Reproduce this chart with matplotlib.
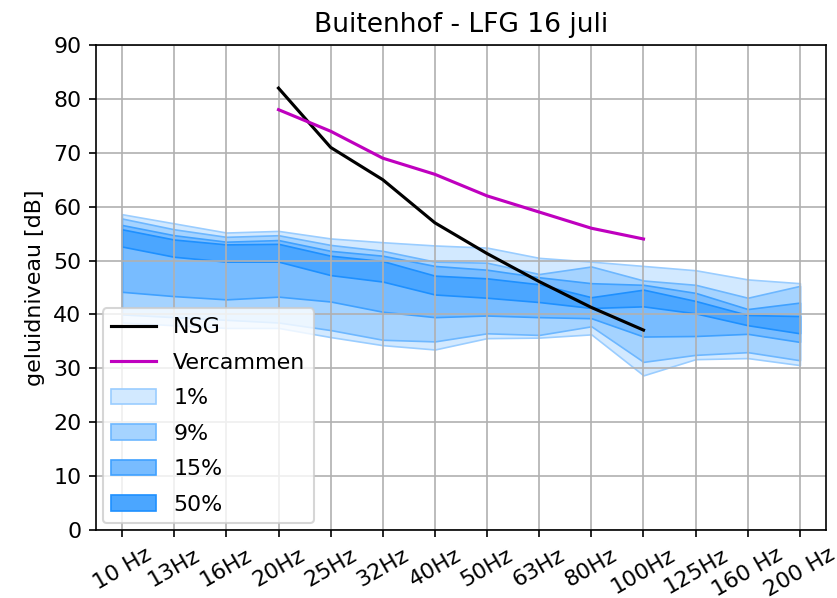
import numpy as np
import matplotlib
matplotlib.use("Agg")
import matplotlib.pyplot as plt
from matplotlib.colors import to_rgb

plt.rcParams['font.size'] = 10.6

freqs = ['10 Hz', '13Hz', '16Hz', '20Hz', '25Hz', '32Hz', '40Hz', '50Hz',
         '63Hz', '80Hz', '100Hz', '125Hz', '160 Hz', '200 Hz']

# upper / lower bounds of the bands (top to bottom)
up_1 = [58.6, 56.9, 55.2, 55.5, 54.1, 53.4, 52.8, 52.4, 50.5, 49.8, 49.0, 48.2, 46.5, 45.8]
up_9 = [57.8, 55.8, 54.4, 54.7, 52.9, 51.8, 49.8, 49.6, 47.5, 48.9, 46.3, 45.5, 43.1, 45.3]
up_15 = [56.6, 54.7, 53.5, 53.8, 51.8, 50.9, 49.0, 48.3, 46.9, 45.8, 45.5, 44.0, 41.0, 42.2]
up_50 = [55.8, 53.9, 53.0, 53.1, 50.9, 49.9, 47.2, 46.7, 45.6, 43.2, 44.6, 42.5, 39.9, 39.7]
lo_50 = [52.6, 50.7, 49.8, 49.8, 47.3, 46.1, 43.7, 43.1, 42.3, 41.2, 41.5, 40.2, 38.0, 36.5]
lo_15 = [44.2, 43.4, 42.8, 43.3, 42.4, 40.5, 39.5, 39.8, 39.5, 39.3, 35.9, 36.0, 36.4, 34.9]
lo_9 = [40.0, 39.5, 39.0, 38.5, 37.1, 35.3, 35.0, 36.5, 36.2, 37.8, 31.2, 32.5, 33.0, 31.5]
lo_1 = [38.5, 38.0, 37.5, 37.5, 35.8, 34.3, 33.5, 35.6, 35.7, 36.3, 28.7, 31.7, 31.9, 30.6]

nsg_freqs = ['20Hz', '25Hz', '32Hz', '40Hz', '50Hz', '63Hz', '80Hz', '100Hz']
nsg = [82, 71, 65, 57, 51.3, 46.1, 41.3, 37.1]
verc = [78, 74, 69, 66, 62, 59, 56, 54]

bands = [('1%', up_1, lo_1, 0.2), ('9%', up_9, lo_9, 0.4),
         ('15%', up_15, lo_15, 0.6), ('50%', up_50, lo_50, 0.8)]


def blend(c, a):
    c = np.array(to_rgb(c))
    return tuple(1 - a * (1 - c))


x = np.arange(len(freqs))
xn = [freqs.index(f) for f in nsg_freqs]

fig, ax = plt.subplots(figsize=(837 / 150, 598 / 150), dpi=150)
fig.subplots_adjust(left=96 / 837, right=826 / 837, top=1 - 45 / 598, bottom=1 - 530 / 598)

ax.plot(xn, nsg, color='black', label='NSG')
ax.plot(xn, verc, color='m', label='Vercammen')
for name, hi, lo, a in bands:
    ax.fill_between(x, lo, hi, facecolor=blend('dodgerblue', a),
                    edgecolor=blend('dodgerblue', min(a + 0.25, 1.0)),
                    linewidth=0.8, label=name)

ax.set_xlim(-0.5, len(freqs) - 0.5)
ax.set_ylim(0, 90)
ax.set_xticks(x)
ax.set_xticklabels(freqs, rotation=30)
ax.set_ylabel('geluidniveau [dB]')
ax.set_title('Buitenhof - LFG 16 juli')
ax.grid()
ax.legend(loc='lower left', borderaxespad=0.3, labelspacing=0.7)
fig.savefig('out.png', dpi=150)
